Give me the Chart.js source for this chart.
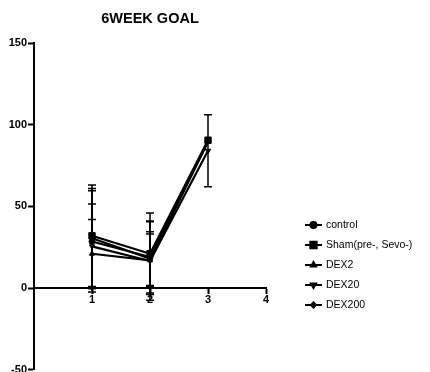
<!DOCTYPE html>
<html>
<head>
<meta charset="utf-8">
<script src="https://cdn.jsdelivr.net/npm/chart.js@4/dist/chart.umd.min.js"></script>
<style>
  html, body { margin: 0; padding: 0; background: #fff; }
  #wrap { width: 430px; height: 372px; }
</style>
</head>
<body>
<div id="wrap"><canvas id="c"></canvas></div>
<script>
// Goal scores by week, mean and error for each group
const weeks = [1, 2, 3];
const seriesNames = ['control', 'Sham(pre-, Sevo-)', 'DEX2', 'DEX20', 'DEX200'];

const controlMean = [28.5, 19, 90];
const controlErr  = [31, 22, 0];
const shamMean    = [32, 21, 90.5];
const shamErr     = [31, 25, 0];
const dex2Mean    = [21, 17, 89.5];
const dex2Err     = [21, 16, 0];
const dex20Mean   = [25.5, 16.5, 84];
const dex20Err    = [26, 24, 22];
const dex200Mean  = [30.5, 18, 90];
const dex200Err   = [30.5, 16.5, 0];

const yTicks = [-50, 0, 50, 100, 150];
const xTicks = [1, 2, 3, 4];

const FONT = "'Liberation Sans', Arial, Helvetica, sans-serif";

const markers = [
  { style: 'circle',   radius: 3,   rotation: 0 },
  { style: 'rect',     radius: 4.5, rotation: 0 },
  { style: 'triangle', radius: 3,   rotation: 0 },
  { style: 'triangle', radius: 3,   rotation: 180 },
  { style: 'rectRot',  radius: 2.5, rotation: 0 }
];

const means = [controlMean, shamMean, dex2Mean, dex20Mean, dex200Mean];
const errs  = [controlErr, shamErr, dex2Err, dex20Err, dex200Err];

const datasets = seriesNames.map((name, i) => ({
  label: name,
  data: weeks.map((w, j) => ({ x: w, y: means[i][j] })),
  errorBars: errs[i],
  borderColor: '#000',
  backgroundColor: '#000',
  borderWidth: 2.2,
  pointStyle: markers[i].style,
  pointRadius: markers[i].radius,
  pointRotation: markers[i].rotation,
  pointBackgroundColor: '#000',
  pointBorderColor: '#000',
  pointBorderWidth: 1,
  tension: 0,
  clip: false
}));

// Let the value axis run almost to the lower edge of the canvas
const plotBottomPlugin = {
  id: 'plotBottom',
  afterLayout(chart) {
    const bottom = chart.height - 2.3;
    const y = chart.scales.y;
    y.bottom = bottom;
    y.height = bottom - y.top;
    y.configure();
    chart.chartArea.bottom = bottom;
    chart.chartArea.height = bottom - chart.chartArea.top;
  }
};

// Vertical error bars with caps, placed through the chart's scales
const errorBarPlugin = {
  id: 'errorBars',
  afterDatasetsDraw(chart) {
    const { ctx, scales: { x, y } } = chart;
    ctx.save();
    ctx.strokeStyle = '#000';
    ctx.lineWidth = 1.5;
    chart.data.datasets.forEach(ds => {
      ds.data.forEach((p, j) => {
        const e = ds.errorBars[j];
        if (!e) return;
        const px = x.getPixelForValue(p.x);
        const top = y.getPixelForValue(p.y + e);
        const bot = y.getPixelForValue(p.y - e);
        ctx.beginPath();
        ctx.moveTo(px, top); ctx.lineTo(px, bot);
        ctx.moveTo(px - 4, top); ctx.lineTo(px + 4, top);
        ctx.moveTo(px - 4, bot); ctx.lineTo(px + 4, bot);
        ctx.stroke();
      });
    });
    ctx.restore();
  }
};

// Legend at the right: short line with the group's marker, then its name
const sideLegendPlugin = {
  id: 'sideLegend',
  afterDraw(chart) {
    const ctx = chart.ctx;
    const x0 = 305, x1 = 322, y0 = 225, step = 20;
    ctx.save();
    chart.data.datasets.forEach((ds, i) => {
      const yy = y0 + i * step;
      ctx.strokeStyle = '#000';
      ctx.lineWidth = 2;
      ctx.beginPath();
      ctx.moveTo(x0, yy); ctx.lineTo(x1, yy);
      ctx.stroke();
      ctx.fillStyle = '#000';
      Chart.helpers.drawPoint(ctx, {
        pointStyle: ds.pointStyle,
        radius: ds.pointRadius,
        rotation: ds.pointRotation,
        borderWidth: 1
      }, (x0 + x1) / 2, yy);
      ctx.fillStyle = '#000';
      ctx.font = '10.5px ' + FONT;
      ctx.textBaseline = 'middle';
      ctx.textAlign = 'left';
      ctx.fillText(ds.label, 326, yy + 0.5);
    });
    ctx.restore();
  }
};

new Chart(document.getElementById('c'), {
  type: 'line',
  data: { datasets },
  options: {
    responsive: true,
    maintainAspectRatio: false,
    animation: false,
    events: [],
    layout: { padding: { left: 0, right: 164, top: 0, bottom: 2.3 } },
    plugins: {
      legend: { display: false },
      tooltip: { enabled: false },
      title: {
        display: true,
        text: '6WEEK GOAL',
        fullSize: false,
        color: '#000',
        font: { family: FONT, size: 14.5, weight: 'bold' },
        padding: { top: 10, bottom: 15.6 }
      }
    },
    scales: {
      x: {
        type: 'linear',
        min: 0,
        max: 4,
        position: { y: 0 },
        afterBuildTicks(scale) {
          scale.ticks = xTicks.map(v => ({ value: v }));
        },
        ticks: {
          color: '#000',
          padding: 0,
          font: { family: FONT, size: 11, weight: 'bold' },
          callback: v => String(v)
        },
        grid: { drawOnChartArea: false, drawTicks: true, tickLength: 5, tickWidth: 2, tickColor: '#000' },
        border: { display: true, color: '#000', width: 2 }
      },
      y: {
        type: 'linear',
        min: -50,
        max: 150,
        afterBuildTicks(scale) {
          scale.ticks = yTicks.map(v => ({ value: v }));
        },
        afterFit(scale) {
          scale.width = 34;
        },
        ticks: {
          color: '#000',
          padding: 1,
          font: { family: FONT, size: 11, weight: 'bold' },
          callback: v => String(v)
        },
        grid: { drawOnChartArea: false, drawTicks: true, tickLength: 6, tickWidth: 2, tickColor: '#000' },
        border: { display: true, color: '#000', width: 2 }
      }
    }
  },
  plugins: [plotBottomPlugin, errorBarPlugin, sideLegendPlugin]
});
</script>
</body>
</html>
